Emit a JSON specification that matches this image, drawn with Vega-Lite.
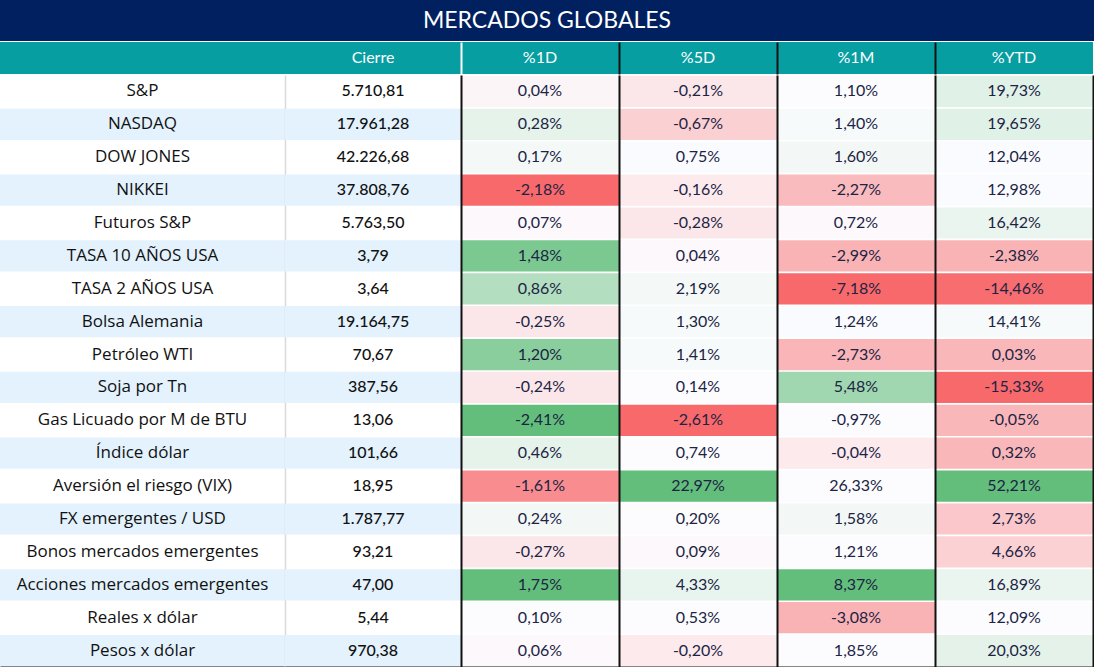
{
  "$schema": "https://vega.github.io/schema/vega-lite/v6.json",
  "background": "white",
  "padding": 0,
  "spacing": 1,
  "config": {
    "view": {"stroke": null},
    "locale": {"number": {"decimal": ",", "thousands": ".", "grouping": [3], "currency": ["$", ""], "minus": "-"}}
  },
  "datasets": {
    "rows": [
      {"i": 1, "name": "S&P", "cierre": 5710.81, "d1": 0.0004, "d5": -0.0021, "m1": 0.011, "ytd": 0.1973, "h1": -0.05, "h5": -0.14, "hm": 0, "hy": 0.18},
      {"i": 2, "name": "NASDAQ", "cierre": 17961.28, "d1": 0.0028, "d5": -0.0067, "m1": 0.014, "ytd": 0.1965, "h1": 0.15, "h5": -0.3, "hm": 0.03, "hy": 0.18},
      {"i": 3, "name": "DOW JONES", "cierre": 42226.68, "d1": 0.0017, "d5": 0.0075, "m1": 0.016, "ytd": 0.1204, "h1": 0.05, "h5": 0.01, "hm": 0.06, "hy": 0.01},
      {"i": 4, "name": "NIKKEI", "cierre": 37808.76, "d1": -0.0218, "d5": -0.0016, "m1": -0.0227, "ytd": 0.1298, "h1": -1, "h5": -0.12, "hm": -0.44, "hy": 0.01},
      {"i": 5, "name": "Futuros S&P", "cierre": 5763.5, "d1": 0.0007, "d5": -0.0028, "m1": 0.0072, "ytd": 0.1642, "h1": -0.03, "h5": -0.15, "hm": -0.03, "hy": 0.12},
      {"i": 6, "name": "TASA 10 AÑOS USA", "cierre": 3.79, "d1": 0.0148, "d5": 0.0004, "m1": -0.0299, "ytd": -0.0238, "h1": 0.84, "h5": -0.03, "hm": -0.5, "hy": -0.5},
      {"i": 7, "name": "TASA 2 AÑOS USA", "cierre": 3.64, "d1": 0.0086, "d5": 0.0219, "m1": -0.0718, "ytd": -0.1446, "h1": 0.48, "h5": 0.05, "hm": -1, "hy": -0.97},
      {"i": 8, "name": "Bolsa Alemania", "cierre": 19164.75, "d1": -0.0025, "d5": 0.013, "m1": 0.0124, "ytd": 0.1441, "h1": -0.14, "h5": 0.04, "hm": 0.01, "hy": 0.04},
      {"i": 9, "name": "Petróleo WTI", "cierre": 70.67, "d1": 0.012, "d5": 0.0141, "m1": -0.0273, "ytd": 0.0003, "h1": 0.75, "h5": 0.04, "hm": -0.48, "hy": -0.47},
      {"i": 10, "name": "Soja por Tn", "cierre": 387.56, "d1": -0.0024, "d5": 0.0014, "m1": 0.0548, "ytd": -0.1533, "h1": -0.14, "h5": -0.01, "hm": 0.6, "hy": -1},
      {"i": 11, "name": "Gas Licuado por M de BTU", "cierre": 13.06, "d1": -0.0241, "d5": -0.0261, "m1": -0.0097, "ytd": -0.0005, "h1": 1, "h5": -1, "hm": 0, "hy": -0.47},
      {"i": 12, "name": "Índice dólar", "cierre": 101.66, "d1": 0.0046, "d5": 0.0074, "m1": -0.0004, "ytd": 0.0032, "h1": 0.15, "h5": 0, "hm": -0.12, "hy": -0.47},
      {"i": 13, "name": "Aversión el riesgo (VIX)", "cierre": 18.95, "d1": -0.0161, "d5": 0.2297, "m1": 0.2633, "ytd": 0.5221, "h1": -0.76, "h5": 1, "hm": 0, "hy": 1},
      {"i": 14, "name": "FX emergentes / USD", "cierre": 1787.77, "d1": 0.0024, "d5": 0.002, "m1": 0.0158, "ytd": 0.0273, "h1": 0.06, "h5": -0.01, "hm": 0.06, "hy": -0.36},
      {"i": 15, "name": "Bonos mercados emergentes", "cierre": 93.21, "d1": -0.0027, "d5": 0.0009, "m1": 0.0121, "ytd": 0.0466, "h1": -0.15, "h5": -0.03, "hm": 0, "hy": -0.29},
      {"i": 16, "name": "Acciones mercados emergentes", "cierre": 47.0, "d1": 0.0175, "d5": 0.0433, "m1": 0.0837, "ytd": 0.1689, "h1": 1, "h5": 0.13, "hm": 1, "hy": 0.12},
      {"i": 17, "name": "Reales x dólar", "cierre": 5.44, "d1": 0.001, "d5": 0.0053, "m1": -0.0308, "ytd": 0.1209, "h1": -0.01, "h5": 0, "hm": -0.5, "hy": 0},
      {"i": 18, "name": "Pesos x dólar", "cierre": 970.38, "d1": 0.0006, "d5": -0.002, "m1": 0.0185, "ytd": 0.2003, "h1": -0.03, "h5": -0.12, "hm": 0, "hy": 0.16}
    ]
  },
  "vconcat": [
    {
      "width": 1094, "height": 41,
      "view": {"fill": "#002060", "stroke": null},
      "data": {"values": [{"t": "MERCADOS GLOBALES"}]},
      "mark": {"type": "text", "color": "white", "font": "Lato", "fontSize": 23},
      "encoding": {
        "text": {"field": "t"},
        "x": {"datum": "t", "type": "nominal", "axis": null},
        "y": {"datum": "t", "type": "nominal", "axis": null}
      }
    },
    {
      "spacing": 0, "bounds": "flush",
      "hconcat": [
        {
          "width": 285, "height": 32, "view": {"fill": "#079EA2", "stroke": null},
          "data": {"values": [{"h": ""}]},
          "mark": {"type": "text", "color": "white", "font": "Lato", "fontSize": 16},
          "encoding": {"text": {"field": "h"}, "x": {"datum": "h", "type": "nominal", "axis": null}, "y": {"datum": "h", "type": "nominal", "axis": null}}
        },
        {
          "width": 176, "height": 32, "view": {"fill": "#079EA2", "stroke": null},
          "data": {"values": [{"h": "Cierre"}]},
          "mark": {"type": "text", "color": "white", "font": "Lato", "fontSize": 16},
          "encoding": {"text": {"field": "h"}, "x": {"datum": "h", "type": "nominal", "axis": null}, "y": {"datum": "h", "type": "nominal", "axis": null}}
        },
        {
          "width": 158, "height": 32, "view": {"fill": "#079EA2", "stroke": null},
          "data": {"values": [{"h": "%1D"}]},
          "mark": {"type": "text", "color": "white", "font": "Lato", "fontSize": 16},
          "encoding": {"text": {"field": "h"}, "x": {"datum": "h", "type": "nominal", "axis": null},
            "y": {"datum": "h", "type": "nominal", "axis": {"domain": true, "domainColor": "white", "domainWidth": 2, "labels": false, "ticks": false, "title": null, "grid": false, "zindex": 1}}}
        },
        {
          "width": 158, "height": 32, "view": {"fill": "#079EA2", "stroke": null},
          "data": {"values": [{"h": "%5D"}]},
          "mark": {"type": "text", "color": "white", "font": "Lato", "fontSize": 16},
          "encoding": {"text": {"field": "h"}, "x": {"datum": "h", "type": "nominal", "axis": null},
            "y": {"datum": "h", "type": "nominal", "axis": {"domain": true, "domainColor": "#111111", "domainWidth": 2, "labels": false, "ticks": false, "title": null, "grid": false, "zindex": 1}}}
        },
        {
          "width": 158, "height": 32, "view": {"fill": "#079EA2", "stroke": null},
          "data": {"values": [{"h": "%1M"}]},
          "mark": {"type": "text", "color": "white", "font": "Lato", "fontSize": 16},
          "encoding": {"text": {"field": "h"}, "x": {"datum": "h", "type": "nominal", "axis": null},
            "y": {"datum": "h", "type": "nominal", "axis": {"domain": true, "domainColor": "#111111", "domainWidth": 2, "labels": false, "ticks": false, "title": null, "grid": false, "zindex": 1}}}
        },
        {
          "width": 158, "height": 32, "view": {"fill": "#079EA2", "stroke": null},
          "data": {"values": [{"h": "%YTD"}]},
          "mark": {"type": "text", "color": "white", "font": "Lato", "fontSize": 16},
          "encoding": {"text": {"field": "h"}, "x": {"datum": "h", "type": "nominal", "axis": null},
            "y": {"datum": "h", "type": "nominal", "axis": {"domain": true, "domainColor": "#111111", "domainWidth": 2, "labels": false, "ticks": false, "title": null, "grid": false, "zindex": 1}}}
        }
      ]
    },
    {
      "spacing": 0, "bounds": "flush",
      "hconcat": [
        {
          "width": 285, "height": 592,
          "data": {"name": "rows"},
          "layer": [
            {
              "transform": [{"filter": "datum.i % 2 == 0"}],
              "mark": {"type": "rect", "color": "#E3F2FD"},
              "encoding": {
                "x": {"datum": "c", "type": "nominal", "scale": {"paddingInner": 0, "paddingOuter": 0}, "axis": {"domain": true, "domainColor": "#111111", "domainWidth": 2, "labels": false, "ticks": false, "title": null, "grid": false, "zindex": 1}},
                "y": {"field": "i", "type": "ordinal", "scale": {"paddingInner": 0.05, "paddingOuter": 0.025}, "axis": null}
              }
            },
            {
              "mark": {"type": "text", "font": "Open Sans", "fontSize": 17, "color": "#111111"},
              "encoding": {
                "x": {"datum": "c", "type": "nominal"},
                "y": {"field": "i", "type": "ordinal"},
                "text": {"field": "name"}
              }
            }
          ]
        },
        {
          "width": 176, "height": 592,
          "data": {"name": "rows"},
          "layer": [
            {
              "transform": [{"filter": "datum.i % 2 == 0"}],
              "mark": {"type": "rect", "color": "#E3F2FD"},
              "encoding": {
                "x": {"datum": "c", "type": "nominal", "scale": {"paddingInner": 0, "paddingOuter": 0}, "axis": {"domain": true, "domainColor": "#111111", "domainWidth": 2, "labels": false, "ticks": false, "title": null, "grid": false, "zindex": 1}},
                "y": {"field": "i", "type": "ordinal", "scale": {"paddingInner": 0.05, "paddingOuter": 0.025}, "axis": {"domain": true, "domainColor": "#D9D9D9", "domainWidth": 1.5, "labels": false, "ticks": false, "title": null, "grid": false, "zindex": 0}}
              }
            },
            {
              "mark": {"type": "text", "font": "Lato", "fontSize": 16, "fontWeight": 500, "color": "#111111"},
              "encoding": {
                "x": {"datum": "c", "type": "nominal"},
                "y": {"field": "i", "type": "ordinal"},
                "text": {"field": "cierre", "type": "quantitative", "format": ",.2f"}
              }
            }
          ]
        },
        {
          "width": 158, "height": 592,
          "data": {"name": "rows"},
          "layer": [
            {
              "mark": {"type": "rect"},
              "encoding": {
                "x": {"datum": "c", "type": "nominal", "scale": {"paddingInner": 0, "paddingOuter": 0}, "axis": {"domain": true, "domainColor": "#111111", "domainWidth": 2, "labels": false, "ticks": false, "title": null, "grid": false, "zindex": 1}},
                "y": {"field": "i", "type": "ordinal", "scale": {"paddingInner": 0.05, "paddingOuter": 0.025}, "axis": {"domain": true, "domainColor": "#111111", "domainWidth": 2, "labels": false, "ticks": false, "title": null, "grid": false, "zindex": 1}},
                "color": {"field": "h1", "type": "quantitative", "scale": {"domain": [-1, 0, 1], "range": ["#F8696B", "#FCFCFF", "#63BE7B"], "interpolate": "rgb"}, "legend": null}
              }
            },
            {
              "mark": {"type": "text", "font": "Lato", "fontSize": 16, "color": "#1B2444"},
              "encoding": {
                "x": {"datum": "c", "type": "nominal"},
                "y": {"field": "i", "type": "ordinal"},
                "text": {"field": "d1", "type": "quantitative", "format": ".2%"}
              }
            }
          ]
        },
        {
          "width": 158, "height": 592,
          "data": {"name": "rows"},
          "layer": [
            {
              "mark": {"type": "rect"},
              "encoding": {
                "x": {"datum": "c", "type": "nominal", "scale": {"paddingInner": 0, "paddingOuter": 0}, "axis": {"domain": true, "domainColor": "#111111", "domainWidth": 2, "labels": false, "ticks": false, "title": null, "grid": false, "zindex": 1}},
                "y": {"field": "i", "type": "ordinal", "scale": {"paddingInner": 0.05, "paddingOuter": 0.025}, "axis": {"domain": true, "domainColor": "#111111", "domainWidth": 2, "labels": false, "ticks": false, "title": null, "grid": false, "zindex": 1}},
                "color": {"field": "h5", "type": "quantitative", "scale": {"domain": [-1, 0, 1], "range": ["#F8696B", "#FCFCFF", "#63BE7B"], "interpolate": "rgb"}, "legend": null}
              }
            },
            {
              "mark": {"type": "text", "font": "Lato", "fontSize": 16, "color": "#1B2444"},
              "encoding": {
                "x": {"datum": "c", "type": "nominal"},
                "y": {"field": "i", "type": "ordinal"},
                "text": {"field": "d5", "type": "quantitative", "format": ".2%"}
              }
            }
          ]
        },
        {
          "width": 158, "height": 592,
          "data": {"name": "rows"},
          "layer": [
            {
              "mark": {"type": "rect"},
              "encoding": {
                "x": {"datum": "c", "type": "nominal", "scale": {"paddingInner": 0, "paddingOuter": 0}, "axis": {"domain": true, "domainColor": "#111111", "domainWidth": 2, "labels": false, "ticks": false, "title": null, "grid": false, "zindex": 1}},
                "y": {"field": "i", "type": "ordinal", "scale": {"paddingInner": 0.05, "paddingOuter": 0.025}, "axis": {"domain": true, "domainColor": "#111111", "domainWidth": 2, "labels": false, "ticks": false, "title": null, "grid": false, "zindex": 1}},
                "color": {"field": "hm", "type": "quantitative", "scale": {"domain": [-1, 0, 1], "range": ["#F8696B", "#FCFCFF", "#63BE7B"], "interpolate": "rgb"}, "legend": null}
              }
            },
            {
              "mark": {"type": "text", "font": "Lato", "fontSize": 16, "color": "#1B2444"},
              "encoding": {
                "x": {"datum": "c", "type": "nominal"},
                "y": {"field": "i", "type": "ordinal"},
                "text": {"field": "m1", "type": "quantitative", "format": ".2%"}
              }
            }
          ]
        },
        {
          "width": 158, "height": 592,
          "data": {"name": "rows"},
          "resolve": {"axis": {"y": "independent"}},
          "layer": [
            {
              "mark": {"type": "rect"},
              "encoding": {
                "x": {"datum": "c", "type": "nominal", "scale": {"paddingInner": 0, "paddingOuter": 0}, "axis": {"domain": true, "domainColor": "#111111", "domainWidth": 2, "labels": false, "ticks": false, "title": null, "grid": false, "zindex": 1}},
                "y": {"field": "i", "type": "ordinal", "scale": {"paddingInner": 0.05, "paddingOuter": 0.025}, "axis": {"domain": true, "domainColor": "#111111", "domainWidth": 2, "labels": false, "ticks": false, "title": null, "grid": false, "zindex": 1}},
                "color": {"field": "hy", "type": "quantitative", "scale": {"domain": [-1, 0, 1], "range": ["#F8696B", "#FCFCFF", "#63BE7B"], "interpolate": "rgb"}, "legend": null}
              }
            },
            {
              "mark": {"type": "text", "font": "Lato", "fontSize": 16, "color": "#1B2444"},
              "encoding": {
                "x": {"datum": "c", "type": "nominal"},
                "y": {"field": "i", "type": "ordinal", "axis": {"orient": "right", "domain": true, "domainColor": "#111111", "domainWidth": 2, "labels": false, "ticks": false, "title": null, "grid": false, "zindex": 1}},
                "text": {"field": "ytd", "type": "quantitative", "format": ".2%"}
              }
            }
          ]
        }
      ]
    }
  ]
}
